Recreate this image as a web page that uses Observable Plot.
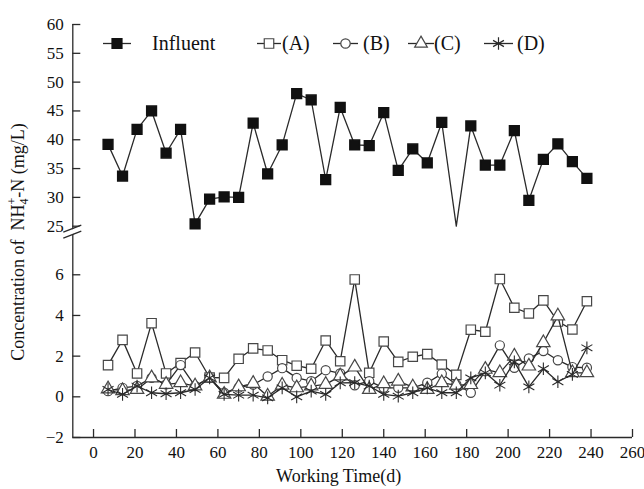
<!DOCTYPE html>
<html><head><meta charset="utf-8">
<script src="https://cdn.jsdelivr.net/npm/d3@7"></script>
<script src="https://cdn.jsdelivr.net/npm/@observablehq/plot@0.6"></script>
<style>body{margin:0;background:#fff} #chart{width:644px;height:489px}</style>
</head><body><div id="chart"></div>
<script>
// ---- data ----
const days = [7,14,21,28,35,42,49,56,63,70,77,84,91,98,105,112,119,126,133,140,147,154,161,168,175,182,189,196,203,210,217,224,231,238];
const influent = [39.2,33.7,41.8,45.0,37.7,41.8,25.4,29.7,30.1,30.0,42.9,34.1,39.1,48.0,46.9,33.1,45.6,39.1,39.0,44.7,34.7,38.4,36.0,43.0,24.9,42.4,35.6,35.6,41.6,29.5,36.6,39.3,36.2,33.3];
const seriesA = [1.56,2.80,1.15,3.62,1.15,1.66,2.18,0.95,0.93,1.87,2.38,2.28,1.80,1.53,1.38,2.77,1.75,5.77,1.18,2.72,1.72,1.97,2.10,1.59,1.08,3.30,3.20,5.79,4.38,4.10,4.74,3.70,3.31,4.70];
const seriesB = [0.28,0.44,0.53,0.93,0.61,1.56,0.53,0.93,0.20,0.45,0.60,1.00,1.41,0.93,0.77,1.31,1.15,0.57,0.77,0.44,0.44,0.44,0.69,1.13,0.61,0.20,1.26,2.53,1.43,1.89,2.25,1.80,1.46,1.43];
const seriesC = [0.39,0.30,0.36,0.93,0.61,0.69,0.53,0.93,0.12,0.49,0.66,0.03,0.57,0.44,0.53,0.61,1.02,1.46,0.36,0.64,0.77,0.48,0.36,0.69,0.57,0.60,1.35,1.18,2.00,1.51,2.66,3.97,1.18,1.18];
const seriesD = [0.36,0.12,0.53,0.20,0.15,0.20,0.36,0.93,0.12,0.08,0.08,-0.05,0.44,0.00,0.28,0.12,0.69,0.70,0.53,0.12,0.03,0.20,0.44,0.20,0.20,0.93,1.18,0.57,1.72,0.49,1.38,0.74,1.10,2.41];
const xTicks = [0,20,40,60,80,100,120,140,160,180,200,220,240,260];
const yTicksLower = [-2,0,2,4,6];
const yTicksUpper = [25,30,35,40,45,50,55,60];
const legendLabels = ["Influent","(A)","(B)","(C)","(D)"];
const xLabel = "Working Time(d)";

// ---- layout ----
const W = 644, H = 489;
const mL = 72.3, mR = 12, mT = 24, mB = 52;
const FONT = "'Times New Roman','Liberation Serif',serif";
const LINE = "#2a2a2a", MARK = "#474747";

const toRows = arr => days.map((d, i) => ({day: d, v: arr[i]}));
const infRows = toRows(influent);
const rowsA = toRows(seriesA), rowsB = toRows(seriesB), rowsC = toRows(seriesC), rowsD = toRows(seriesD);
const yTicks = [...yTicksLower, ...yTicksUpper];

function breakMark(index, scales) {
  const cx = scales.x(-10), cy = scales.y(25) + 6;
  const g = d3.create("svg:g");
  g.append("polygon").attr("points", `${cx-9},${cy+1} ${cx+9},${cy-6} ${cx+9},${cy-1} ${cx-9},${cy+6}`).attr("fill", "#fff");
  g.append("line").attr("x1", cx-9).attr("y1", cy+0.5).attr("x2", cx+9).attr("y2", cy-6.5).attr("stroke", LINE).attr("stroke-width", 1.3);
  g.append("line").attr("x1", cx-9).attr("y1", cy+6.5).attr("x2", cx+9).attr("y2", cy-0.5).attr("stroke", LINE).attr("stroke-width", 1.3);
  return g.node();
}

function yTitle() {
  const t = d3.create("svg:text")
    .attr("transform", "translate(24,242) rotate(-90)")
    .attr("text-anchor", "middle")
    .attr("font-family", FONT).attr("font-size", 18).attr("fill", "#111");
  t.append("tspan").text("Concentration of  NH");
  t.append("tspan").attr("font-size", 12).attr("dy", 4).text("4");
  t.append("tspan").attr("font-size", 12).attr("dx", -6).attr("dy", -12).text("+");
  t.append("tspan").attr("dy", 8).text("-N (mg/L)");
  return t.node();
}

function legend() {
  const g = d3.create("svg:g").attr("font-family", FONT).attr("font-size", 20).attr("fill", "#111").attr("text-anchor", "start");
  const y = 43.5;
  const items = [
    {x1: 103, x2: 131, mx: 117, tx: 152, sym: d3.symbolSquare, size: 100, fill: "#111", stroke: "#111"},
    {x1: 257, x2: 281, mx: 269, tx: 282, sym: d3.symbolSquare, size: 90, fill: "#fff", stroke: MARK},
    {x1: 333, x2: 358, mx: 345.5, tx: 363, sym: d3.symbolCircle, size: 70, fill: "#fff", stroke: MARK},
    {x1: 408, x2: 434, mx: 421, tx: 434, sym: d3.symbolTriangle, size: 70, fill: "#fff", stroke: MARK},
    {x1: 484, x2: 513, mx: 498.5, tx: 517, sym: d3.symbolAsterisk, size: 110, fill: "none", stroke: LINE}
  ];
  items.forEach((it, i) => {
    g.append("line").attr("x1", it.x1).attr("x2", it.x2).attr("y1", y).attr("y2", y).attr("stroke", LINE).attr("stroke-width", 1.3);
    g.append("path").attr("d", d3.symbol(it.sym, it.size)()).attr("transform", `translate(${it.mx},${y})`)
      .attr("fill", it.fill).attr("stroke", it.stroke).attr("stroke-width", 1.2);
    g.append("text").attr("x", it.tx).attr("y", y + 6.8).text(legendLabels[i]);
  });
  return g.node();
}

const openDot = (rows, symbol, r) => Plot.dot(rows, {x: "day", y: "v", symbol: () => symbol, r, fill: "#fff", stroke: MARK, strokeWidth: 1.2});

const chart = Plot.plot({
  width: W, height: H,
  marginLeft: mL, marginRight: mR, marginTop: mT, marginBottom: mB,
  style: {fontFamily: FONT, fontSize: "17px", color: "#111", background: "#fff"},
  x: {domain: [-10, 260], range: [mL, W - mR]},
  y: {type: "linear", domain: [-2, 8.3, 25, 60], range: [H - mB, 227.5, 225.7, mT]},
  symbol: {type: "identity"},
  marks: [
    Plot.ruleX([-10], {y1: -2, y2: 60, stroke: LINE, strokeWidth: 1.3}),
    Plot.ruleY([-2], {x1: -10, x2: 260, stroke: LINE, strokeWidth: 1.3}),
    Plot.tickX(xTicks, {x: d => d, insetTop: H - mT - mB - 8, stroke: LINE, strokeWidth: 1.3}),
    Plot.tickY(yTicks, {y: d => d, insetRight: W - mL - mR - 8, stroke: LINE, strokeWidth: 1.3}),
    Plot.axisX(xTicks, {tickSize: 0, tickPadding: 8, fontSize: 17, label: null}),
    Plot.axisY(yTicks, {tickSize: 0, tickPadding: 9, fontSize: 17, label: null}),
    Plot.text([xLabel], {frameAnchor: "bottom", dy: 44, fontSize: 18, dx: -14}),
    breakMark,
    yTitle,
    legend,
    // influent
    Plot.line(infRows, {x: "day", y: "v", stroke: LINE, strokeWidth: 1.3}),
    Plot.dot(infRows.filter(d => d.v >= 25), {x: "day", y: "v", symbol: () => "square", r: 5.5, fill: "#111", stroke: "#111"}),
    // lower series
    Plot.line(rowsA, {x: "day", y: "v", stroke: LINE, strokeWidth: 1.3}),
    openDot(rowsA, "square", 5.3),
    Plot.line(rowsB, {x: "day", y: "v", stroke: LINE, strokeWidth: 1.3}),
    openDot(rowsB, "circle", 4.6),
    Plot.line(rowsC, {x: "day", y: "v", stroke: LINE, strokeWidth: 1.3}),
    openDot(rowsC, "triangle", 5.0),
    Plot.line(rowsD, {x: "day", y: "v", stroke: LINE, strokeWidth: 1.3}),
    Plot.dot(rowsD, {x: "day", y: "v", symbol: () => "asterisk", r: 6, stroke: LINE, strokeWidth: 1.1})
  ]
});
document.getElementById("chart").appendChild(chart);
</script>
</body></html>
